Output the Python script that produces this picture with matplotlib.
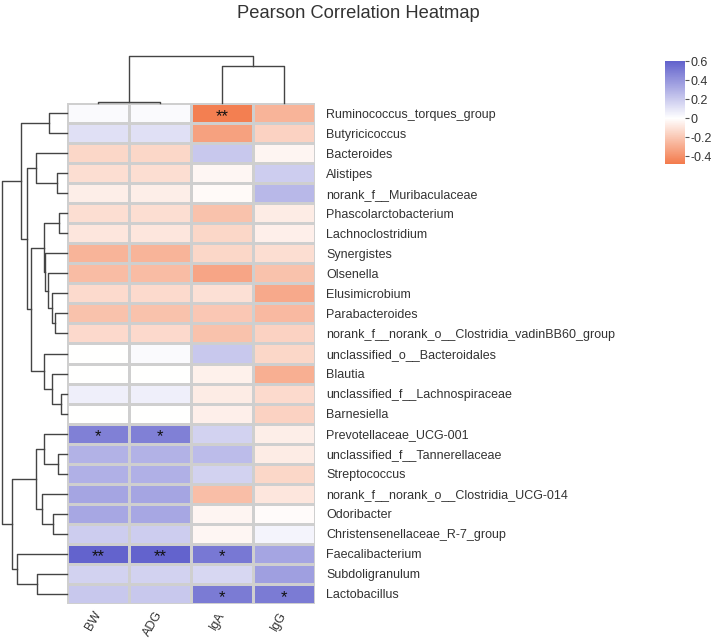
import numpy as np
import matplotlib
matplotlib.use("Agg")
import matplotlib.pyplot as plt
from matplotlib.colors import LinearSegmentedColormap, Normalize
from matplotlib.cm import ScalarMappable

plt.rcParams["font.family"] = ["Liberation Sans", "DejaVu Sans"]

# columns (already in dendrogram order)
traits = ["BW", "ADG", "IgA", "IgG"]

# rows (already in dendrogram order)
genera = [
    "Ruminococcus_torques_group", "Butyricicoccus", "Bacteroides", "Alistipes",
    "norank_f__Muribaculaceae", "Phascolarctobacterium", "Lachnoclostridium",
    "Synergistes", "Olsenella", "Elusimicrobium", "Parabacteroides",
    "norank_f__norank_o__Clostridia_vadinBB60_group", "unclassified_o__Bacteroidales",
    "Blautia", "unclassified_f__Lachnospiraceae", "Barnesiella",
    "Prevotellaceae_UCG-001", "unclassified_f__Tannerellaceae", "Streptococcus",
    "norank_f__norank_o__Clostridia_UCG-014", "Odoribacter",
    "Christensenellaceae_R-7_group", "Faecalibacterium", "Subdoligranulum",
    "Lactobacillus",
]

# correlation values, one list per trait
r_bw = [0.02, 0.115, -0.145, -0.12, -0.06, -0.12, -0.09, -0.27, -0.24, -0.13,
        -0.22, -0.135, 0.0, 0.0, 0.06, 0.0, 0.48, 0.29, 0.30, 0.34, 0.33, 0.19,
        0.59, 0.17, 0.21]
r_adg = [0.02, 0.115, -0.145, -0.12, -0.06, -0.12, -0.09, -0.27, -0.24, -0.13,
         -0.22, -0.135, 0.02, 0.0, 0.06, 0.0, 0.48, 0.29, 0.30, 0.34, 0.33, 0.19,
         0.59, 0.17, 0.21]
r_iga = [-0.46, -0.34, 0.21, -0.03, -0.02, -0.22, -0.145, -0.145, -0.32, -0.11,
         -0.20, -0.22, 0.21, -0.05, -0.07, -0.055, 0.17, 0.25, 0.17, -0.235,
         -0.035, -0.03, 0.51, 0.15, 0.50]
r_igg = [-0.27, -0.16, -0.035, 0.19, 0.27, -0.07, -0.055, -0.12, -0.22, -0.31,
         -0.25, -0.16, -0.145, -0.29, -0.13, -0.16, -0.06, -0.07, -0.145, -0.09,
         -0.015, 0.04, 0.34, 0.36, 0.50]

# significance marks
sig_bw = [""] * 16 + ["*"] + [""] * 5 + ["**", "", ""]
sig_adg = [""] * 16 + ["*"] + [""] * 5 + ["**", "", ""]
sig_iga = ["**"] + [""] * 21 + ["*", "", "*"]
sig_igg = [""] * 24 + ["*"]

# row dendrogram merges (leaf ids 0..24, new clusters numbered from 25)
row_left = [0, 3, 2, 5, 10, 9, 8, 7, 28, 14, 13, 12, 33, 27, 25, 17, 16, 20, 19, 41, 23, 22, 44, 39]
row_right = [1, 4, 26, 6, 11, 29, 30, 31, 32, 15, 34, 35, 36, 37, 38, 18, 40, 21, 42, 43, 24, 45, 46, 47]
row_height = [0.277, 0.154, 0.477, 0.123, 0.185, 0.231, 0.292, 0.331, 0.354, 0.092,
              0.231, 0.354, 0.554, 0.615, 0.708, 0.138, 0.354, 0.215, 0.385, 0.477,
              0.462, 0.769, 0.846, 1.0]

# column dendrogram merges
col_left = [0, 2, 4]
col_right = [1, 3, 5]
col_height = [0.03, 0.78, 1.0]

vmin, vmax = -0.48, 0.6


def dendro_segments(n, left, right, height):
    pos = {i: i + 0.5 for i in range(n)}
    hgt = {i: 0.0 for i in range(n)}
    segs = []
    for k, (a, b, h) in enumerate(zip(left, right, height)):
        segs.append([(pos[a], hgt[a]), (pos[a], h), (pos[b], h), (pos[b], hgt[b])])
        pos[n + k] = (pos[a] + pos[b]) / 2
        hgt[n + k] = h
    return segs


W, H = 714, 641
fig = plt.figure(figsize=(W / 100, H / 100), dpi=100)


def px_axes(x0, y0, x1, y1):
    return fig.add_axes([x0 / W, 1 - y1 / H, (x1 - x0) / W, (y1 - y0) / H])


# heatmap
ax = px_axes(67, 103, 315, 604)
data = np.array([r_bw, r_adg, r_iga, r_igg]).T
stars = np.array([sig_bw, sig_adg, sig_iga, sig_igg]).T
mid = (0 - vmin) / (vmax - vmin)
cmap = LinearSegmentedColormap.from_list(
    "corr", [(0, "#F37A4B"), (mid, "#FFFFFF"), (1, "#6161CC")])
norm = Normalize(vmin=vmin, vmax=vmax)
ax.pcolormesh(np.arange(len(traits) + 1), np.arange(len(genera) + 1), data,
              cmap=cmap, norm=norm, edgecolors="#CFCFCF", linewidth=0.9)
ax.set_xlim(0, len(traits))
ax.set_ylim(len(genera), 0)
for i in range(len(genera)):
    for j in range(len(traits)):
        if stars[i, j]:
            ax.text(j + 0.5, i + 0.66, stars[i, j], ha="center", va="center",
                    fontsize=12, color="#111111")
for s in ax.spines.values():
    s.set_visible(False)
ax.yaxis.tick_right()
ax.set_yticks(np.arange(len(genera)) + 0.5)
ax.set_yticklabels(genera, fontsize=9, color="#333333")
ax.set_xticks(np.arange(len(traits)) + 0.5)
ax.set_xticklabels(traits, rotation=60, ha="right", va="center", fontsize=9,
                   color="#333333", rotation_mode="anchor")
ax.tick_params(axis="y", length=0, pad=8)
ax.tick_params(axis="x", length=0, pad=6)

# row dendrogram
axr = px_axes(2, 103, 67, 604)
for seg in dendro_segments(len(genera), row_left, row_right, row_height):
    ys, xs = zip(*seg)
    axr.plot(xs, ys, color="#444444", lw=1.0, clip_on=False)
axr.set_xlim(1.0, 0)
axr.set_ylim(len(genera), 0)
axr.axis("off")

# column dendrogram
axc = px_axes(67, 56, 315, 103)
for seg in dendro_segments(len(traits), col_left, col_right, col_height):
    xs, ys = zip(*seg)
    axc.plot(xs, ys, color="#444444", lw=1.0, clip_on=False)
axc.set_xlim(0, len(traits))
axc.set_ylim(0, 1.0)
axc.axis("off")

# colorbar
cax = px_axes(665, 61, 685, 164)
cb = fig.colorbar(ScalarMappable(norm=norm, cmap=cmap), cax=cax,
                  ticks=[0.6, 0.4, 0.2, 0, -0.2, -0.4])
cb.ax.set_yticklabels(["0.6", "0.4", "0.2", "0", "-0.2", "-0.4"])
cb.outline.set_visible(False)
cb.ax.tick_params(length=3, width=0.8, color="#555555", labelsize=9,
                  labelcolor="#333333", pad=1)

fig.text(358 / W, 1 - 13 / H, "Pearson Correlation Heatmap", ha="center",
         va="center", fontsize=13.2, color="#333333")

fig.savefig("out.png", dpi=100)
